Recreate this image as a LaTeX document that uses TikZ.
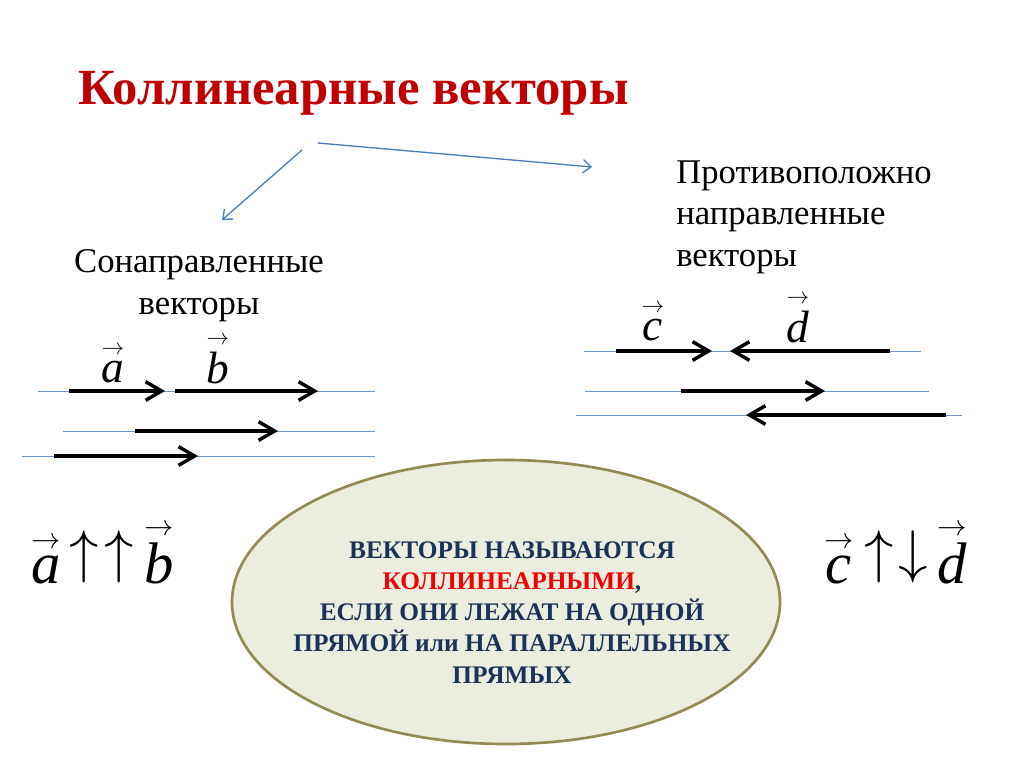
\documentclass[tikz,border=0pt]{standalone}
\usepackage{amsmath}
\usepackage{fontspec}
\setmainfont{Liberation Serif}
\usepackage{tikz}
\usetikzlibrary{arrows.meta,shapes.geometric}
\DeclareFontShape{OMS}{cmsy}{m}{n}{<->cmsy10}{}
\definecolor{ttlred}{HTML}{C00000}
\definecolor{pblue}{HTML}{4A7EBB}
\definecolor{gblue}{HTML}{6F96CC}
\definecolor{pnavy}{HTML}{1B3358}
\definecolor{polive}{HTML}{948A54}
\definecolor{pfill}{HTML}{EBEEDF}
\definecolor{pred}{HTML}{F00000}
\newcommand{\vv}[1]{\ensuremath{\overset{\scriptscriptstyle\rightarrow}{\text{\itshape #1}}}}
\newcommand{\up}{\raisebox{0.19em}{$\uparrow$}}
\newcommand{\down}{\raisebox{0.19em}{$\downarrow$}}

\begin{document}
\begin{tikzpicture}[x=0.75pt,y=-0.75pt,
    guide/.style={gblue,line width=0.6pt},
    vecarr/.style={line width=3pt,-{Straight Barb[length=12pt,width=14pt,line width=2.6pt]}},
    pointer/.style={pblue,line width=1pt,-{Straight Barb[length=6pt,width=10pt]}},
    letter/.style={font=\fontsize{34}{40}\selectfont},
    word/.style={font=\fontsize{26}{31}\selectfont,inner sep=0pt}]
  \useasboundingbox (0,0) rectangle (1024,767);

  % Title
  \node[anchor=base west,inner sep=0pt,ttlred,
        font=\fontsize{38}{44}\selectfont\bfseries]
    (title) at (78,104) {Коллинеарные векторы};

  % Two kinds
  \node[word,align=center,anchor=base] (same) at (199,314)
    {Сонаправленные\\векторы};
  \node[word,align=left,anchor=base west] (oppo) at (676,266)
    {Противоположно\\направленные\\векторы};
  \coordinate (p1) at (302,150);
  \coordinate (p1end) at (222,220);
  \coordinate (p2) at (318,143);
  \coordinate (p2end) at (592,167);
  \draw[pointer] (p1) -- (p1end);
  \draw[pointer] (p2) -- (p2end);

  % Co-directed vectors
  \draw[guide] (38,391) -- (375,391);
  \draw[guide] (63,431) -- (375,431);
  \draw[guide] (22,456) -- (375,456);
  \draw[vecarr] (69,391) -- (165,391);
  \draw[vecarr] (175,391) -- (318,391);
  \draw[vecarr] (135,431) -- (278,431);
  \draw[vecarr] (54,456) -- (198,456);
  \node[letter,anchor=base] (a) at (113,382) {\vv{a}};
  \node[letter,anchor=base] (b) at (218,383) {\vv{b}};

  % Opposite vectors
  \draw[guide] (584,351) -- (921,351);
  \draw[guide] (585,391) -- (929,391);
  \draw[guide] (576,415) -- (962,415);
  \draw[vecarr] (616,351) -- (712,351);
  \draw[vecarr] (890,351) -- (730,351);
  \draw[vecarr] (681,391) -- (825,391);
  \draw[vecarr] (946,415) -- (746,415);
  \node[letter,anchor=base] (c) at (653,340) {\vv{c}};
  \node[letter,anchor=base] (d) at (798,342) {\vv{d}};

  % Definition
  \node[ellipse,draw=polive,line width=2pt,fill=pfill,
        minimum width=411pt,minimum height=213pt] (oval) at (506,602) {};
  \node[align=center,anchor=base,pnavy,
        font=\fontsize{19}{23.3}\selectfont\bfseries]
    (defn) at (512,683)
    {ВЕКТОРЫ НАЗЫВАЮТСЯ\\
     {\color{pred}КОЛЛИНЕАРНЫМИ},\\
     ЕСЛИ ОНИ ЛЕЖАТ НА ОДНОЙ\\
     ПРЯМОЙ или НА ПАРАЛЛЕЛЬНЫХ\\
     ПРЯМЫХ};

  % Notation
  \node[anchor=base west,inner sep=0pt,font=\fontsize{44}{50}\selectfont]
    (codir) at (31,583) {\vv{a}\hspace{7pt}\up\hspace{4pt}\up\hspace{8pt}\vv{b}};
  \node[anchor=base west,inner sep=0pt,font=\fontsize{44}{50}\selectfont]
    (opdir) at (824,583) {\vv{c}\hspace{8pt}\up\hspace{4pt}\down\hspace{7pt}\vv{d}};
\end{tikzpicture}
\end{document}
